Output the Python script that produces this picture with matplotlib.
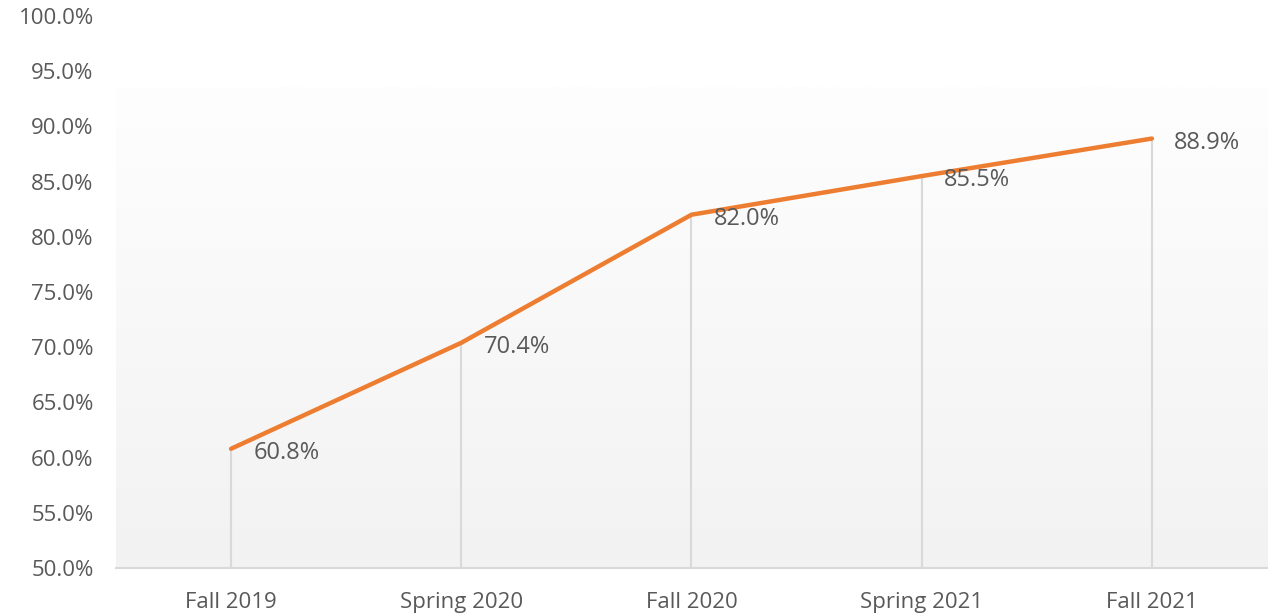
import matplotlib
matplotlib.use("Agg")
import matplotlib.pyplot as plt
import numpy as np
from matplotlib.ticker import FuncFormatter, MultipleLocator
from matplotlib.colors import LinearSegmentedColormap

categories = ["Fall 2019", "Spring 2020", "Fall 2020", "Spring 2021", "Fall 2021"]
values = [60.8, 70.4, 82.0, 85.5, 88.9]

plt.rcParams['font.family'] = ['Open Sans', 'DejaVu Sans']

fig = plt.figure(figsize=(12.73, 6.13), dpi=100)
ax = fig.add_axes([0.0911, 0.0734, 0.9042, 0.9005])
ax.patch.set_alpha(0)

x = np.arange(len(categories))
ax.set_xlim(-0.5, len(categories) - 0.5)
ax.set_ylim(50, 100)

# gradient background (plot area)
grad = np.linspace(0, 1, 256).reshape(-1, 1)
cmap = LinearSegmentedColormap.from_list("g", ["#F2F2F2", "#FEFEFE"])
ax.imshow(grad, aspect='auto', cmap=cmap, origin='lower',
          extent=[0, 1, 0, 0.87], transform=ax.transAxes, zorder=0)

# drop lines
ax.vlines(x, 50, values, colors="#D9D9D9", linewidth=1.5, zorder=1)

ax.plot(x, values, color="#ED7D31", linewidth=3.2, solid_capstyle='round', zorder=3)

for xi, v in zip(x, values):
    ax.annotate(f"{v:.1f}%", (xi, v), xytext=(16, -3), textcoords='offset points',
                ha='left', va='center', fontsize=17, color="#595959", zorder=4)

ax.yaxis.set_major_locator(MultipleLocator(5))
ax.yaxis.set_major_formatter(FuncFormatter(lambda v, p: f"{v:.1f}%"))
ax.set_xticks(x)
ax.set_xticklabels(categories)
ax.tick_params(axis='both', length=0, labelsize=16, colors="#595959")
ax.tick_params(axis='x', pad=17)
ax.tick_params(axis='y', pad=16)

for s in ['top', 'right', 'left']:
    ax.spines[s].set_visible(False)
ax.spines['bottom'].set_color("#D9D9D9")
ax.spines['bottom'].set_linewidth(1.5)

fig.savefig("out.png", dpi=100)
